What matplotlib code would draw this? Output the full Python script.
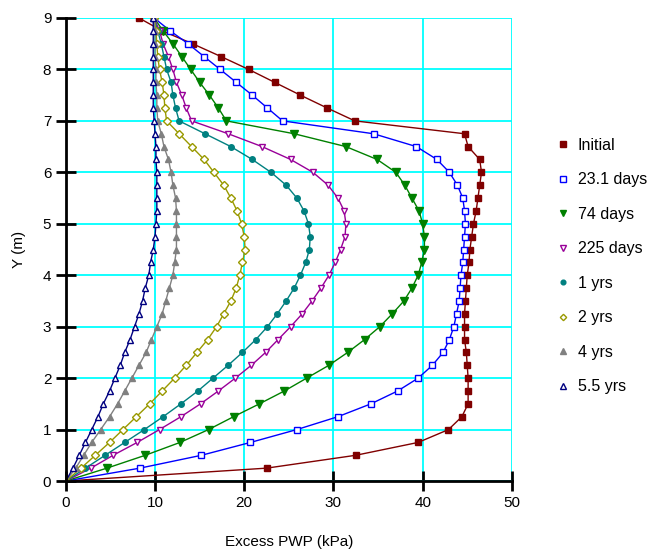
import matplotlib
matplotlib.use("Agg")
import matplotlib.pyplot as plt

plt.rcParams['font.family'] = ['Liberation Sans', 'DejaVu Sans']

# depth points (m), every 0.25 m from bottom to top
depth = [i * 0.25 for i in range(37)]

# excess pore water pressure (kPa), from y=0 up to y=9
initial = [0, 22.5, 32.5, 39.5, 42.9, 44.4, 45.1, 45.1, 45.1, 45.0, 44.9, 44.7, 44.7,
           44.7, 44.8, 44.9, 45.0, 45.2, 45.3, 45.5, 45.7, 46.0, 46.2, 46.4, 46.6,
           46.4, 45.1, 44.7, 32.4, 29.3, 26.3, 23.4, 20.5, 17.4, 14.2, 10.8, 8.2]
d23 = [0, 8.3, 15.2, 20.7, 25.9, 30.5, 34.2, 37.2, 39.5, 41.1, 42.3, 43.0, 43.5,
       43.8, 44.1, 44.2, 44.3, 44.5, 44.6, 44.7, 44.8, 44.7, 44.5, 43.9, 43.0,
       41.6, 39.3, 34.5, 24.3, 22.6, 20.9, 19.1, 17.3, 15.5, 13.7, 11.7, 9.9]
d74 = [0, 4.6, 8.9, 12.8, 16.0, 18.8, 21.7, 24.5, 27.0, 29.5, 31.6, 33.5, 35.2,
       36.6, 37.9, 38.8, 39.5, 39.9, 40.2, 40.2, 40.0, 39.6, 38.8, 38.0, 37.0,
       34.9, 31.4, 25.6, 18.0, 17.1, 16.1, 15.0, 14.0, 13.0, 12.0, 10.9, 9.9]
d225 = [0, 2.8, 5.3, 8.0, 10.5, 12.9, 15.1, 17.1, 19.0, 20.8, 22.4, 23.8, 25.2,
        26.5, 27.6, 28.6, 29.5, 30.2, 30.8, 31.3, 31.4, 31.2, 30.5, 29.4, 27.7,
        25.2, 22.0, 18.2, 14.1, 13.5, 13.0, 12.4, 12.0, 11.5, 10.9, 10.5, 9.9]
y1 = [0, 2.2, 4.4, 6.6, 8.8, 10.9, 12.9, 14.8, 16.5, 18.2, 19.8, 21.3, 22.6,
      23.7, 24.7, 25.6, 26.3, 26.9, 27.3, 27.4, 27.2, 26.7, 25.9, 24.7, 23.0,
      20.9, 18.5, 15.6, 12.7, 12.3, 12.0, 11.8, 11.3, 11.0, 10.7, 10.3, 9.9]
y2 = [0, 1.7, 3.3, 4.9, 6.4, 7.9, 9.4, 10.8, 12.2, 13.5, 14.7, 15.9, 16.9,
      17.7, 18.5, 19.1, 19.5, 19.8, 20.1, 20.0, 19.7, 19.2, 18.5, 17.7, 16.6,
      15.5, 14.1, 12.7, 11.3, 11.1, 11.0, 10.8, 10.5, 10.3, 10.2, 10.1, 9.9]
y4 = [0, 1.1, 2.0, 2.9, 3.9, 4.9, 5.8, 6.6, 7.4, 8.2, 9.0, 9.6, 10.2,
      10.8, 11.2, 11.6, 12.0, 12.2, 12.4, 12.4, 12.4, 12.4, 12.3, 12.0, 11.8,
      11.5, 11.0, 10.7, 10.3, 10.2, 10.2, 10.1, 10.1, 10.0, 10.0, 10.0, 9.9]
y55 = [0, 0.8, 1.5, 2.2, 2.9, 3.6, 4.2, 4.9, 5.5, 6.1, 6.6, 7.2, 7.7,
       8.2, 8.6, 8.9, 9.3, 9.5, 9.8, 10.0, 10.1, 10.2, 10.2, 10.2, 10.2,
       10.1, 10.1, 10.0, 9.9, 9.8, 9.8, 9.8, 9.8, 9.8, 9.8, 9.8, 9.8]

series = [initial, d23, d74, d225, y1, y2, y4, y55]
labels = ["Initial", "23.1 days", "74 days", "225 days", "1 yrs", "2 yrs", "4 yrs", "5.5 yrs"]
colors = ["#800000", "#0000ff", "#008000", "#990099", "#008080", "#999900", "#808080", "#000080"]
markers = ["s", "s", "v", "v", "o", "D", "^", "^"]
filled = [True, False, True, False, True, False, True, False]
msizes = [5, 4.5, 5.5, 5, 4, 3.8, 5, 4.5]

fig = plt.figure(figsize=(6.52, 5.52), dpi=100)
ax = fig.add_axes([0.101, 0.1286, 0.684, 0.8388])

for s, lab, c, m, f, ms in zip(series, labels, colors, markers, filled, msizes):
    ax.plot(s, depth, color=c, lw=1, marker=m, ms=ms, mec=c,
            mfc=c if f else "white", mew=1, label=lab)

ax.set_xlim(0, 50)
ax.set_ylim(0, 9)
ax.set_xticks(range(0, 51, 10))
ax.set_yticks(range(0, 10))
ax.grid(True, color="#00ffff", lw=1.3)
ax.set_axisbelow(True)
for sp in ["top", "right"]:
    ax.spines[sp].set_visible(False)
for sp in ["left", "bottom"]:
    ax.spines[sp].set_linewidth(2)
ax.tick_params(direction="inout", length=14, width=2, labelsize=11)
ax.set_xlabel("Excess PWP (kPa)", fontsize=11, labelpad=18)
ax.set_ylabel("Y (m)", fontsize=11, labelpad=12)

leg = ax.legend(loc="upper left", bbox_to_anchor=(1.085, 0.755), frameon=False,
                fontsize=11.5, handlelength=0.8, labelspacing=1.22, markerscale=0.85,
                handletextpad=0.55, borderaxespad=0)
for h in leg.legend_handles:
    h.set_linestyle("none")

fig.savefig("out.png")
